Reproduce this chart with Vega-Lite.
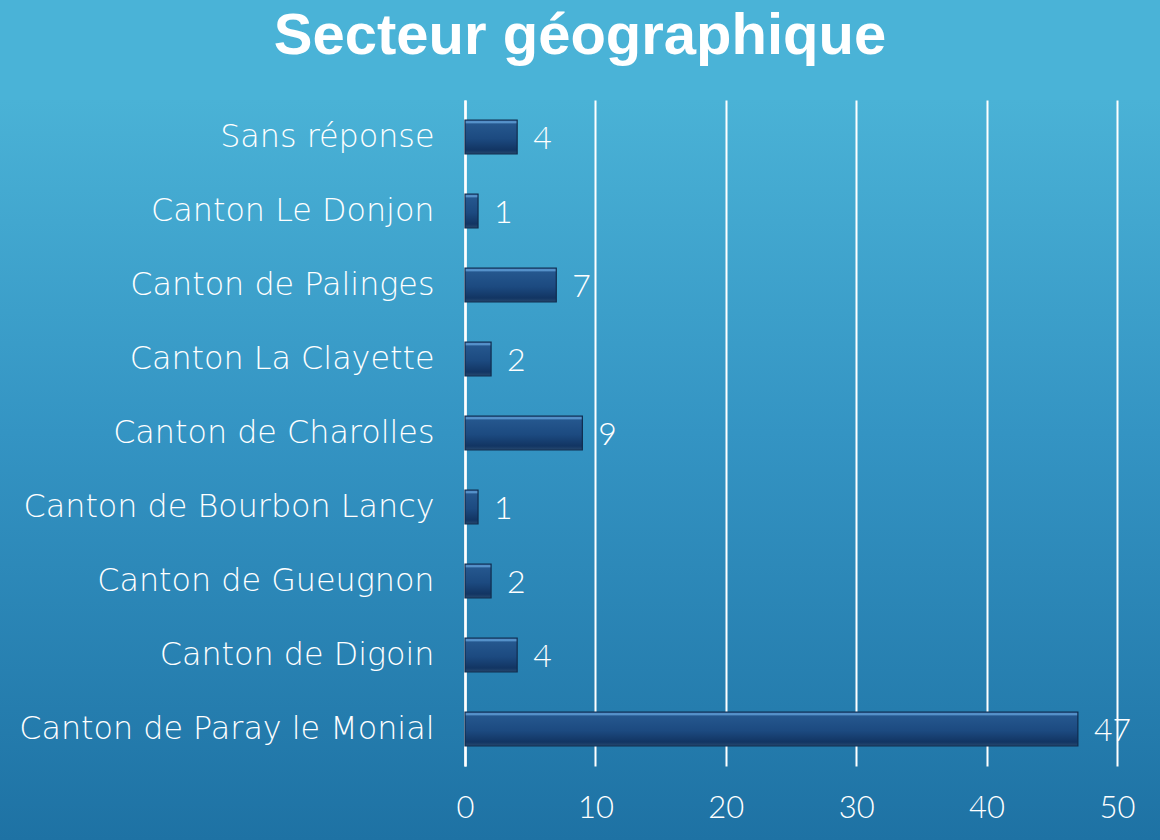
{
  "$schema": "https://vega.github.io/schema/vega-lite/v6.json",
  "width": 1160,
  "height": 740,
  "padding": {"top": 100, "left": 0, "right": 0, "bottom": 0},
  "autosize": {"type": "none"},
  "background": "#4ab3d7",
  "config": {
    "view": {
      "stroke": null,
      "fill": {
        "gradient": "linear",
        "x1": 0, "y1": 0, "x2": 0, "y2": 1,
        "stops": [
          {"offset": 0, "color": "#4ab2d6"},
          {"offset": 0.45, "color": "#3494c3"},
          {"offset": 1, "color": "#1e72a4"}
        ]
      }
    }
  },
  "title": {
    "text": "Secteur géographique",
    "font": "Liberation Sans",
    "fontSize": 58,
    "fontWeight": "bold",
    "color": "#ffffff",
    "anchor": "middle",
    "frame": "group",
    "offset": 33
  },
  "data": {
    "values": [
      {"secteur": "Sans réponse", "n": 4},
      {"secteur": "Canton Le Donjon", "n": 1},
      {"secteur": "Canton de Palinges", "n": 7},
      {"secteur": "Canton La Clayette", "n": 2},
      {"secteur": "Canton de Charolles", "n": 9},
      {"secteur": "Canton de Bourbon Lancy", "n": 1},
      {"secteur": "Canton de Gueugnon", "n": 2},
      {"secteur": "Canton de Digoin", "n": 4},
      {"secteur": "Canton de Paray le Monial", "n": 47}
    ]
  },
  "encoding": {
    "y": {
      "field": "secteur",
      "type": "nominal",
      "sort": null,
      "scale": {"range": [0, 666], "paddingInner": 0.54, "paddingOuter": 0.27},
      "axis": {
        "title": null,
        "orient": "left",
        "offset": -465,
        "domain": true,
        "domainColor": "#ffffff",
        "domainWidth": 2.5,
        "ticks": false,
        "grid": false,
        "labelPadding": 31,
        "labelFont": "DejaVu Sans",
        "labelFontWeight": 200,
        "labelFontSize": 31.8,
        "labelColor": "#ffffff",
        "labelLimit": 600
      }
    },
    "x": {
      "field": "n",
      "type": "quantitative",
      "scale": {"domain": [0, 50], "range": [465, 1117], "nice": false, "zero": true},
      "axis": {
        "title": null,
        "orient": "bottom",
        "offset": -74,
        "values": [0, 10, 20, 30, 40, 50],
        "domain": false,
        "grid": false,
        "ticks": true,
        "tickSize": -666,
        "tickColor": "#ffffff",
        "tickWidth": 2,
        "labelFlush": false,
        "labelPadding": 693,
        "labelFont": "Lato",
        "labelFontWeight": 300,
        "labelFontSize": 31,
        "labelColor": "#ffffff"
      }
    }
  },
  "layer": [
    {
      "mark": {
        "type": "bar",
        "stroke": "#102c4e",
        "strokeWidth": 1.2,
        "fill": {
          "gradient": "linear",
          "x1": 0, "y1": 0, "x2": 0, "y2": 1,
          "stops": [
            {"offset": 0, "color": "#22508a"},
            {"offset": 0.06, "color": "#64a3dc"},
            {"offset": 0.12, "color": "#25578e"},
            {"offset": 0.55, "color": "#1c4a80"},
            {"offset": 0.88, "color": "#123563"},
            {"offset": 1, "color": "#27496f"}
          ]
        }
      }
    },
    {
      "mark": {
        "type": "text",
        "align": "left",
        "baseline": "middle",
        "dx": 16,
        "dy": 2,
        "font": "Lato",
        "fontWeight": 300,
        "fontSize": 32,
        "color": "#ffffff"
      },
      "encoding": {
        "text": {"field": "n", "type": "quantitative"}
      }
    }
  ]
}
